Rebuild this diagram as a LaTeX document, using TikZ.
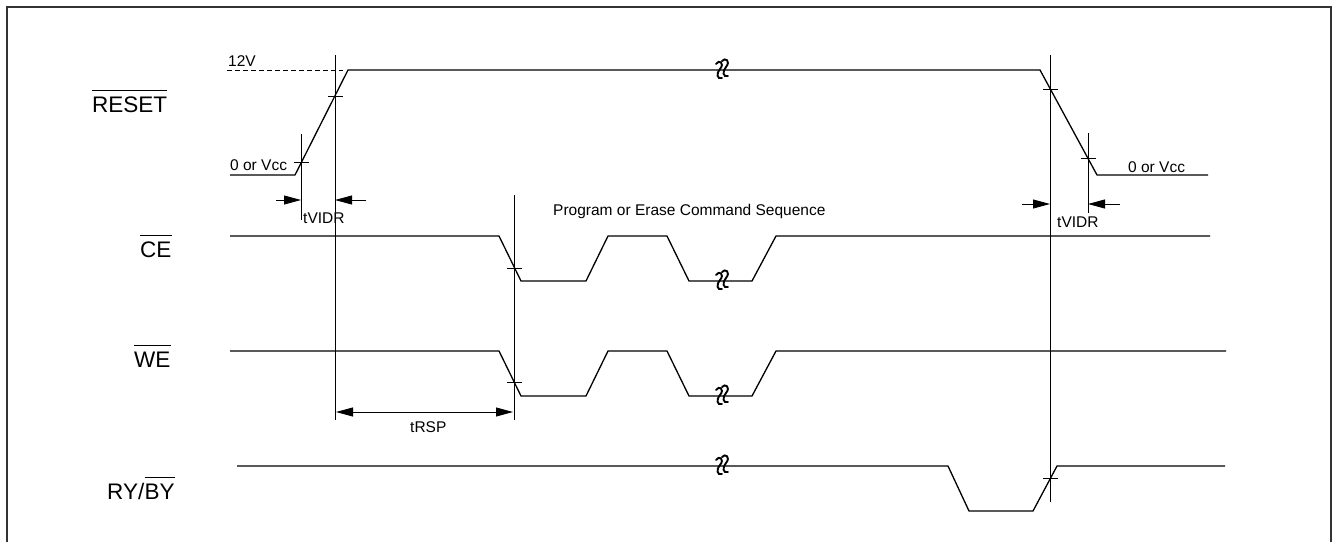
\documentclass[tikz,border=0pt]{standalone}
\usepackage{fontspec}
\setmainfont{Liberation Sans}
\usetikzlibrary{arrows.meta}
\begin{document}
\begin{tikzpicture}[x=1pt,y=-1pt,
  sig/.style={line width=1.3pt, line join=miter},
  refline/.style={line width=0.8pt},
  tickmark/.style={line width=0.8pt},
  dimarrow/.style={line width=0.8pt,-{Triangle[length=17pt,width=9pt]}},
  dimboth/.style={line width=0.8pt,{Triangle[length=17pt,width=9pt]}-{Triangle[length=17pt,width=9pt]}},
  lbl/.style={font=\fontsize{22.5}{25}\selectfont, inner sep=0pt, anchor=base west},
  small/.style={font=\fontsize{15.5}{18}\selectfont, inner sep=0pt, anchor=base west},
  ovl/.style={line width=1pt},
  brkmark/.pic={
    \draw[line width=1.9pt, line cap=round] (-7,-6) .. controls (-4,-11) and (2,-7) .. (-3,-1) .. controls (-7,3) and (-6,10) .. (-1,8);
    \draw[line width=1.9pt, line cap=round] (-1,-9) .. controls (2,-13) and (8,-9) .. (3,-3) .. controls (-1,1) and (0,8) .. (5,6);
  }
]
\useasboundingbox (0,0) rectangle (1338,542);
% frame
\draw[line width=1.5pt, black!80] (7,542) -- (7,7) -- (1331,7) -- (1331,542);

% signal labels
\node[lbl] (lreset) at (92,112) {RESET};
\draw[ovl] ([yshift=6pt]lreset.north west) -- ([yshift=6pt]lreset.north east);
\node[lbl] (lce) at (140,257) {CE};
\draw[ovl] ([yshift=6pt]lce.north west) -- ([yshift=6pt]lce.north east);
\node[lbl] (lwe) at (134,367) {WE};
\draw[ovl] ([yshift=6pt]lwe.north west) -- ([yshift=6pt]lwe.north east);
\node[lbl] (lry) at (107,499) {RY/};
\node[lbl] (lby) at (lry.base east) {BY};
\draw[ovl] ([yshift=6pt]lby.north west) -- ([yshift=6pt]lby.north east);

% other texts
\node[small] (t12v) at (228,66) {12V};
\node[small] (tvcc1) at (230,170) {0 or Vcc};
\node[small] (tvcc2) at (1128,172) {0 or Vcc};
\node[small] (tvidr1) at (303,223) {tVIDR};
\node[small] (tvidr2) at (1057,227) {tVIDR};
\node[small] (tprog) at (553,215) {Program or Erase Command Sequence};
\node[small] (trsp) at (410,432) {tRSP};

% waveforms
\draw[sig] (230,175) -- (295,175) -- (348,70) -- (1040,70) -- (1097,175) -- (1208,175);
\draw[line width=0.8pt, dash pattern=on 5pt off 3pt] (227,70) -- (343,70);
\draw[sig] (230,236) -- (499,236) -- (521,281) -- (586,281) -- (608,236) -- (667,236) -- (689,281) -- (752,281) -- (776,236) -- (1210,236);
\draw[sig] (230,351) -- (499,351) -- (521,396) -- (586,396) -- (608,351) -- (667,351) -- (689,396) -- (752,396) -- (776,351) -- (1226,351);
\draw[sig] (237,466) -- (948,466) -- (969,511) -- (1033,511) -- (1057,466) -- (1225,466);

% break marks
\pic at (723,70) {brkmark};
\pic at (723,281) {brkmark};
\pic at (723,396) {brkmark};
\pic at (723,466) {brkmark};

% reference lines
\coordinate (v1t) at (335,55);  \coordinate (v1b) at (335,420);
\coordinate (v2t) at (301,134); \coordinate (v2b) at (301,220);
\coordinate (v3t) at (514,195); \coordinate (v3b) at (514,420);
\coordinate (v4t) at (1050,55); \coordinate (v4b) at (1050,502);
\coordinate (v5t) at (1088,133);\coordinate (v5b) at (1088,213);
\draw[refline] (v1t) -- (v1b);
\draw[refline] (v2t) -- (v2b);
\draw[refline] (v3t) -- (v3b);
\draw[refline] (v4t) -- (v4b);
\draw[refline] (v5t) -- (v5b);

% ticks
\draw[tickmark] (328,96) -- (343,96);
\draw[tickmark] (294,162) -- (309,162);
\draw[tickmark] (1043,89) -- (1058,89);
\draw[tickmark] (1081,158) -- (1096,158);
\draw[tickmark] (507,268) -- (522,268);
\draw[tickmark] (507,382) -- (522,382);
\draw[tickmark] (1043,478) -- (1058,478);

% dimension arrows
\coordinate (a1s) at (276,200); \coordinate (a1e) at (301,200);
\coordinate (a2s) at (366,200); \coordinate (a2e) at (335,200);
\coordinate (a3s) at (1022,204); \coordinate (a3e) at (1050,204);
\coordinate (a4s) at (1120,204); \coordinate (a4e) at (1088,204);
\coordinate (r1) at (336,412); \coordinate (r2) at (513,412);
\draw[dimarrow] (a1s) -- (a1e);
\draw[dimarrow] (a2s) -- (a2e);
\draw[dimarrow] (a3s) -- (a3e);
\draw[dimarrow] (a4s) -- (a4e);
\draw[dimboth] (r1) -- (r2);
\end{tikzpicture}
\end{document}
